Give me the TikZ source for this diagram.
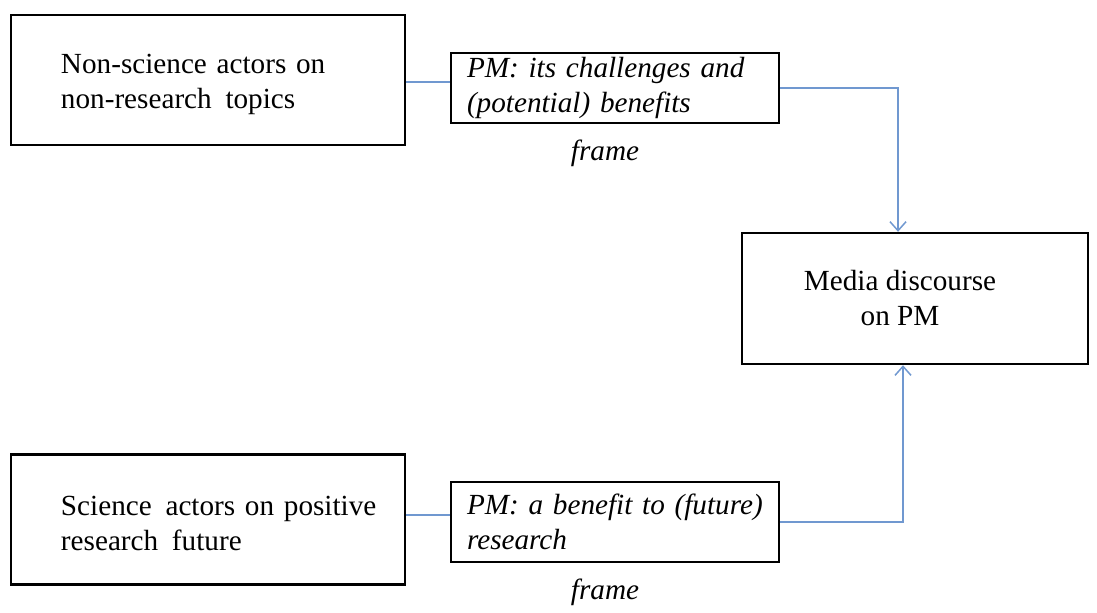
\documentclass[tikz,border=0pt]{standalone}
\usepackage{fontspec}
\setmainfont{Liberation Serif}
\usepackage{xcolor}
\usepackage{tikz}
\usetikzlibrary{positioning}
\usetikzlibrary{arrows.meta}

\definecolor{linkblue}{RGB}{112,152,208}

\begin{document}
\begin{tikzpicture}[x=0.5pt, y=-0.5pt,
		every node/.style={font=\fontsize{14.6pt}{17.5pt}\selectfont},
		actor/.style={draw, line width=1.2pt, align=left, inner xsep=25pt, text width=147pt, text height=14pt, minimum height=65pt},
		framebox/.style={draw, line width=1.2pt, align=left, inner xsep=8pt, inner ysep=0pt, text width=148pt,
				font=\fontsize{14.6pt}{17.5pt}\selectfont\itshape},
		framelabel/.style={font=\fontsize{14.6pt}{17.5pt}\selectfont\itshape},
		link/.style={linkblue, line width=0.75pt},
		linkarrow/.style={link, -{Straight Barb[length=4.5pt, width=8pt]}}]
		\useasboundingbox (0,0) rectangle (1097,612);

		% Actors on the left
		\node[actor] (nonsci) at (208,80) {\mbox{Non-science actors on}\\\mbox{non-research\hspace{2pt} topics}};
		\node[actor] (sci) at (208,519.5) {\mbox{Science\hspace{2pt} actors on positive}\\\mbox{research\hspace{2pt} future}};

		% Frames in the middle
		\node[framebox, minimum height=35pt] (chal) at (615,88) {\mbox{PM: its challenges and}\\\mbox{(potential) benefits}};
		\node[framebox, minimum height=40pt] (bene) at (615,522) {\mbox{PM: a benefit to (future)}\\research};
		\foreach \n/\y in {chal/153, bene/592} {
				\node[framelabel] (lbl\n) at (605,\y) {frame};
			}

		% Result (text sits a bit left of centre)
		\node[draw, line width=1.2pt, align=center, minimum width=173pt, minimum height=65.5pt] (media) at (915,298.5)
			{Media discourse\hspace*{15pt}\\on PM\hspace*{15pt}};

		% Connections
		\draw[link] ([yshift=-1pt]nonsci.east) -- ([yshift=-1pt]nonsci.east -| chal.west);
		\draw[link] ([yshift=2.25pt]sci.east) -- ([yshift=2.25pt]sci.east -| bene.west);
		\draw[linkarrow] (chal.east) -| ([xshift=-8.5pt]media.north);
		\draw[linkarrow] (bene.east) -| ([xshift=-6pt]media.south);
	\end{tikzpicture}
\end{document}
